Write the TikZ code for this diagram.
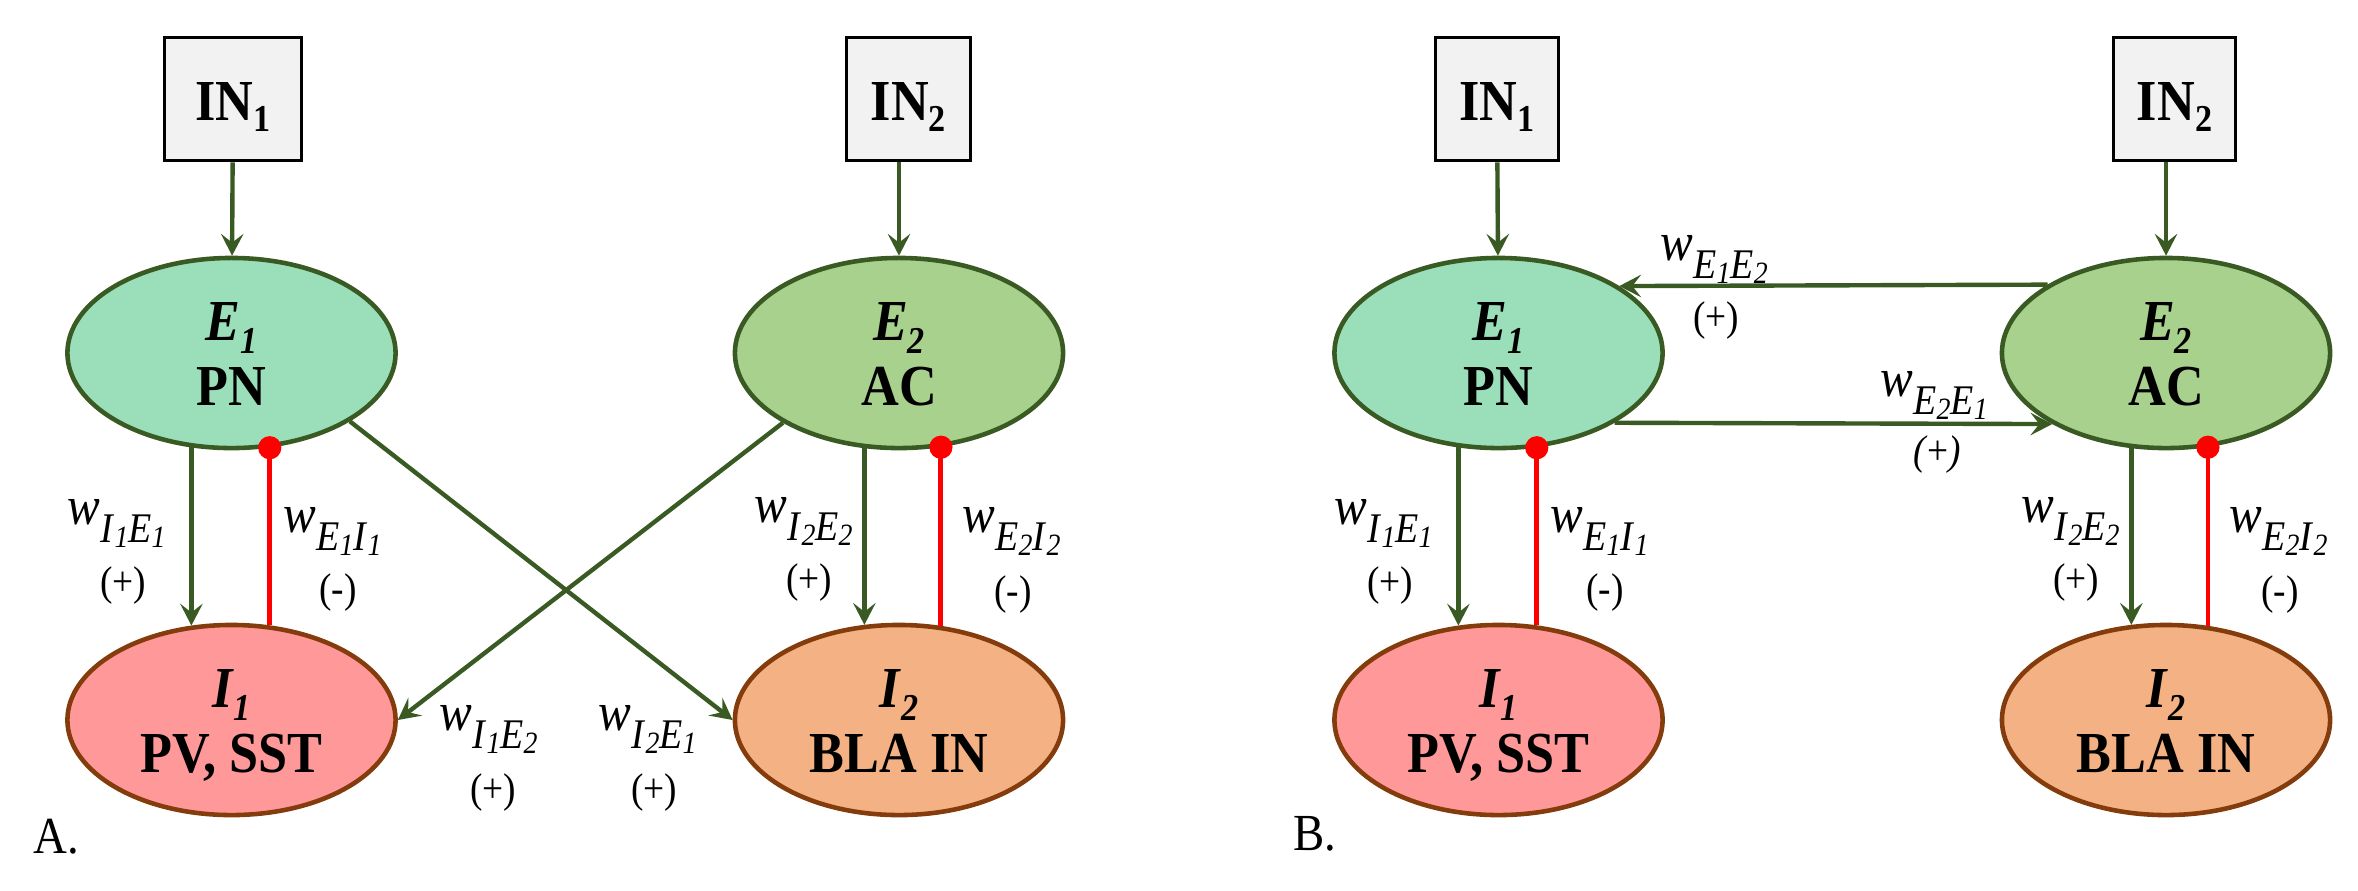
\documentclass[tikz,border=0pt]{standalone}
\usepackage{fontspec}
\setmainfont[FakeStretch=0.9]{Liberation Serif}
\usetikzlibrary{arrows.meta,shapes.geometric,calc}
\definecolor{lgreen}{HTML}{3A5A24}
\definecolor{ebord}{HTML}{3A5A24}
\definecolor{ibrown}{HTML}{843C0C}
\definecolor{eonefill}{HTML}{9BDFBA}
\definecolor{etwofill}{HTML}{A9D18E}
\definecolor{ionefill}{HTML}{FF9999}
\definecolor{itwofill}{HTML}{F4B183}
\definecolor{boxgray}{HTML}{F2F2F2}
\definecolor{inhred}{HTML}{FF0000}
\newcommand{\wsub}[4]{\textit{w}\raisebox{-5.2pt}{\fontsize{12}{13}\selectfont\textit{#1}\raisebox{-1.4pt}{\fontsize{8.8}{9}\selectfont\textit{#2}}\textit{#3}\raisebox{-1.4pt}{\fontsize{8.8}{9}\selectfont\textit{#4}}}}
\newcommand{\nsub}[2]{\textbf{\textit{#1}}\raisebox{-3.7pt}{\fontsize{10.8}{11}\selectfont\textbf{\textit{#2}}}}
\newcommand{\boxsub}[2]{\textbf{#1}\raisebox{-3.4pt}{\fontsize{10.8}{11}\selectfont\textbf{#2}}}
\begin{document}
\begin{tikzpicture}[x=0.01cm,y=-0.01cm,
  ell/.style={ellipse, minimum width=3.28cm, minimum height=1.9cm, inner sep=0pt, line width=1.3pt},
  eone/.style={ell, draw=ebord, fill=eonefill},
  etwo/.style={ell, draw=ebord, fill=etwofill},
  ione/.style={ell, draw=ibrown, fill=ionefill},
  itwo/.style={ell, draw=ibrown, fill=itwofill},
  inbox/.style={draw=black, fill=boxgray, line width=1pt, minimum height=1.23cm, inner sep=0pt,
    font=\fontsize{16.5}{18}\selectfont, text height=0.42cm, text depth=0cm},
  arr/.style={draw=lgreen, line width=1.25pt, -{Stealth[length=6.2pt,width=6.4pt,inset=2.5pt]}},
  inh/.style={draw=inhred, line width=1.4pt},
  ntext/.style={anchor=base, inner sep=0pt, font=\fontsize{16.5}{18}\selectfont\bfseries},
  wl/.style={anchor=base west, inner sep=0pt, font=\fontsize{15.5}{17}\selectfont},
  sg/.style={inner sep=0pt, font=\fontsize{11.8}{13}\selectfont},
  pl/.style={anchor=base west, inner sep=0pt, font=\fontsize{14.8}{16}\selectfont},
]
\useasboundingbox (0,0) rectangle (2358,890);

% ---------------- Panel A ----------------
\node[inbox, minimum width=1.37cm] (IN1) at (233,99) {\boxsub{IN}{1}};
\node[inbox, minimum width=1.24cm] (IN2) at (908.5,99) {\boxsub{IN}{2}};
\node[eone] (E1) at (231.5,353) {};
\node[etwo] (E2) at (899,353) {};
\node[ione] (I1) at (231.5,720) {};
\node[itwo] (I2) at (899,720) {};

\node[ntext] (tE1) at ($(E1)+(0,-13)$) {\nsub{E}{1}};
\node[ntext] (nE1) at ($(E1)+(0,52)$) {PN};
\node[ntext] (tE2) at ($(E2)+(0,-13)$) {\nsub{E}{2}};
\node[ntext] (nE2) at ($(E2)+(0,52)$) {AC};
\node[ntext] (tI1) at ($(I1)+(0,-13)$) {\nsub{I}{1}};
\node[ntext] (nI1) at ($(I1)+(0,52)$) {PV, SST};
\node[ntext] (tI2) at ($(I2)+(0,-13)$) {\nsub{I}{2}};
\node[ntext] (nI2) at ($(I2)+(0,52)$) {BLA IN};

\draw[arr] (IN1) -- (E1);
\draw[arr] (IN2.south -| E2.north) -- (E2.north);
\draw[arr] (E1.-113.5) -- (I1.113.5);
\draw[inh] (E1.-68.5) -- (I1.68.5);
\fill[inhred] (E1.-68.5) circle[radius=3.3pt];
\draw[arr] (E2.-110.1) -- (I2.110.1);
\draw[inh] (E2.-66) -- (I2.66);
\fill[inhred] (E2.-66) circle[radius=3.3pt];
\draw[arr] (E1.-30.6) -- (I2.west);
\draw[arr] (E2.-149.4) -- (I1.east);

\node[wl] (lAa) at (67,524) {\wsub{I}{1}{E}{1}};
\node[sg] (sAa) at (123,586) {(+)};
\node[wl] (lAb) at (283,532) {\wsub{E}{1}{I}{1}};
\node[sg] (sAb) at (338,593) {(-)};
\node[wl] (lAc) at (439,730) {\wsub{I}{1}{E}{2}};
\node[sg] (sAc) at (493,792) {(+)};
\node[wl] (lAd) at (598,730) {\wsub{I}{2}{E}{1}};
\node[sg] (sAd) at (654,792) {(+)};
\node[wl] (lAe) at (754,522) {\wsub{I}{2}{E}{2}};
\node[sg] (sAe) at (809,583) {(+)};
\node[wl] (lAf) at (962,532) {\wsub{E}{2}{I}{2}};
\node[sg] (sAf) at (1013,594) {(-)};
\node[pl] (lblA) at (33,853) {A.};

% ---------------- Panel B ----------------
\node[inbox, minimum width=1.23cm] (IN1B) at (1497,99) {\boxsub{IN}{1}};
\node[inbox, minimum width=1.22cm] (IN2B) at (2174.5,99) {\boxsub{IN}{2}};
\node[eone] (E1B) at (1498.5,353) {};
\node[etwo] (E2B) at (2166,353) {};
\node[ione] (I1B) at (1498.5,720) {};
\node[itwo] (I2B) at (2166,720) {};

\node[ntext] (tE1B) at ($(E1B)+(0,-13)$) {\nsub{E}{1}};
\node[ntext] (nE1B) at ($(E1B)+(0,52)$) {PN};
\node[ntext] (tE2B) at ($(E2B)+(0,-13)$) {\nsub{E}{2}};
\node[ntext] (nE2B) at ($(E2B)+(0,52)$) {AC};
\node[ntext] (tI1B) at ($(I1B)+(0,-13)$) {\nsub{I}{1}};
\node[ntext] (nI1B) at ($(I1B)+(0,52)$) {PV, SST};
\node[ntext] (tI2B) at ($(I2B)+(0,-13)$) {\nsub{I}{2}};
\node[ntext] (nI2B) at ($(I2B)+(0,52)$) {BLA IN};

\draw[arr] (IN1B) -- (E1B);
\draw[arr] (IN2B.south -| E2B.north) -- (E2B.north);
\draw[arr] (E1B.-113.5) -- (I1B.113.5);
\draw[inh] (E1B.-68.5) -- (I1B.68.5);
\fill[inhred] (E1B.-68.5) circle[radius=3.3pt];
\draw[arr] (E2B.-110.1) -- (I2B.110.1);
\draw[inh] (E2B.-66) -- (I2B.66);
\fill[inhred] (E2B.-66) circle[radius=3.3pt];
\draw[arr] (E2B.150.1) -- (E1B.29.9);
\draw[arr] (E1B.-31.5) -- (E2B.-148.5);

\node[wl] (lBa) at (1334,524) {\wsub{I}{1}{E}{1}};
\node[sg] (sBa) at (1390,586) {(+)};
\node[wl] (lBb) at (1550,532) {\wsub{E}{1}{I}{1}};
\node[sg] (sBb) at (1605,593) {(-)};
\node[wl] (lBe) at (2021,522) {\wsub{I}{2}{E}{2}};
\node[sg] (sBe) at (2076,583) {(+)};
\node[wl] (lBf) at (2229,532) {\wsub{E}{2}{I}{2}};
\node[sg] (sBf) at (2280,594) {(-)};
\node[wl] (lBg) at (1660,260) {\wsub{E}{1}{E}{2}};
\node[sg] (sBg) at (1716,321) {(+)};
\node[wl] (lBh) at (1880,396) {\wsub{E}{2}{E}{1}};
\node[sg] (sBh) at (1937,455) {\textit{(}+\textit{)}};
\node[pl] (lblB) at (1293,850) {B.};
\end{tikzpicture}
\end{document}
